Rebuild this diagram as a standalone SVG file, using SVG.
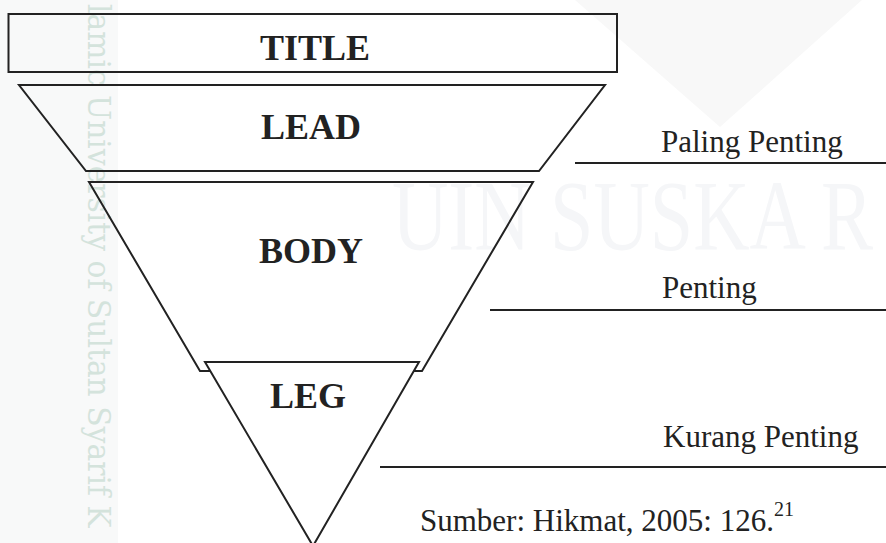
<svg xmlns="http://www.w3.org/2000/svg" width="886" height="543" viewBox="0 0 886 543">
  <style>
    .shape { fill: none; stroke: #222; stroke-width: 2; stroke-linejoin: miter; }
    .white { fill: #fff; }
    .bold { font-family: "Liberation Serif", "Times New Roman", serif; font-weight: bold; font-size: 36px; fill: #222; text-anchor: middle; }
    .lbl { font-family: "Liberation Serif", "Times New Roman", serif; font-size: 31px; fill: #222; }
    .rule { stroke: #222; stroke-width: 2; fill: none; }
    .wm { font-family: "DejaVu Serif", "Liberation Serif", serif; font-size: 32px; fill: #d4e3dc; }
    .wm2 { font-family: "Liberation Serif", serif; font-size: 100px; fill: #f5f6f8; }
  </style>
  <rect x="0" y="0" width="886" height="543" fill="#fff"/>
  <g id="watermark">
    <rect x="0" y="0" width="118" height="543" fill="#f8f9f9"/>
    <polygon points="575,0 862,0 720,127" fill="#f8f8f8"/>
    <text class="wm2" transform="translate(392,249) scale(0.78,1)">UIN SUSKA R</text>
    <text class="wm" transform="translate(88,4) rotate(90) scale(0.93,1)">lamic University of Sultan Syarif K</text>
  </g>
  <g id="title">
    <rect class="shape" x="8.5" y="14" width="608.5" height="58"/>
    <text class="bold" x="315" y="60">TITLE</text>
  </g>
  <g id="lead">
    <polygon class="shape" points="19,85 605,85 539,171 86,171"/>
    <text class="bold" x="311" y="139">LEAD</text>
  </g>
  <g id="body">
    <polygon class="shape" points="89,182 533,182 422,371 200,371"/>
    <text class="bold" x="311" y="263">BODY</text>
  </g>
  <g id="leg">
    <polygon class="shape white" points="205,362 419,362 313,546"/>
    <text class="bold" x="308" y="408">LEG</text>
  </g>
  <g id="connectors">
    <line class="rule" x1="575" y1="163" x2="886" y2="163"/>
    <line class="rule" x1="490" y1="310" x2="886" y2="310"/>
    <line class="rule" x1="380" y1="467" x2="886" y2="467"/>
  </g>
  <g id="labels">
    <text class="lbl" x="661" y="152">Paling Penting</text>
    <text class="lbl" x="662" y="298">Penting</text>
    <text class="lbl" x="663" y="447">Kurang Penting</text>
    <text class="lbl" x="420" y="531">Sumber: Hikmat, 2005: 126.<tspan font-size="20" dy="-15">21</tspan></text>
  </g>
</svg>
